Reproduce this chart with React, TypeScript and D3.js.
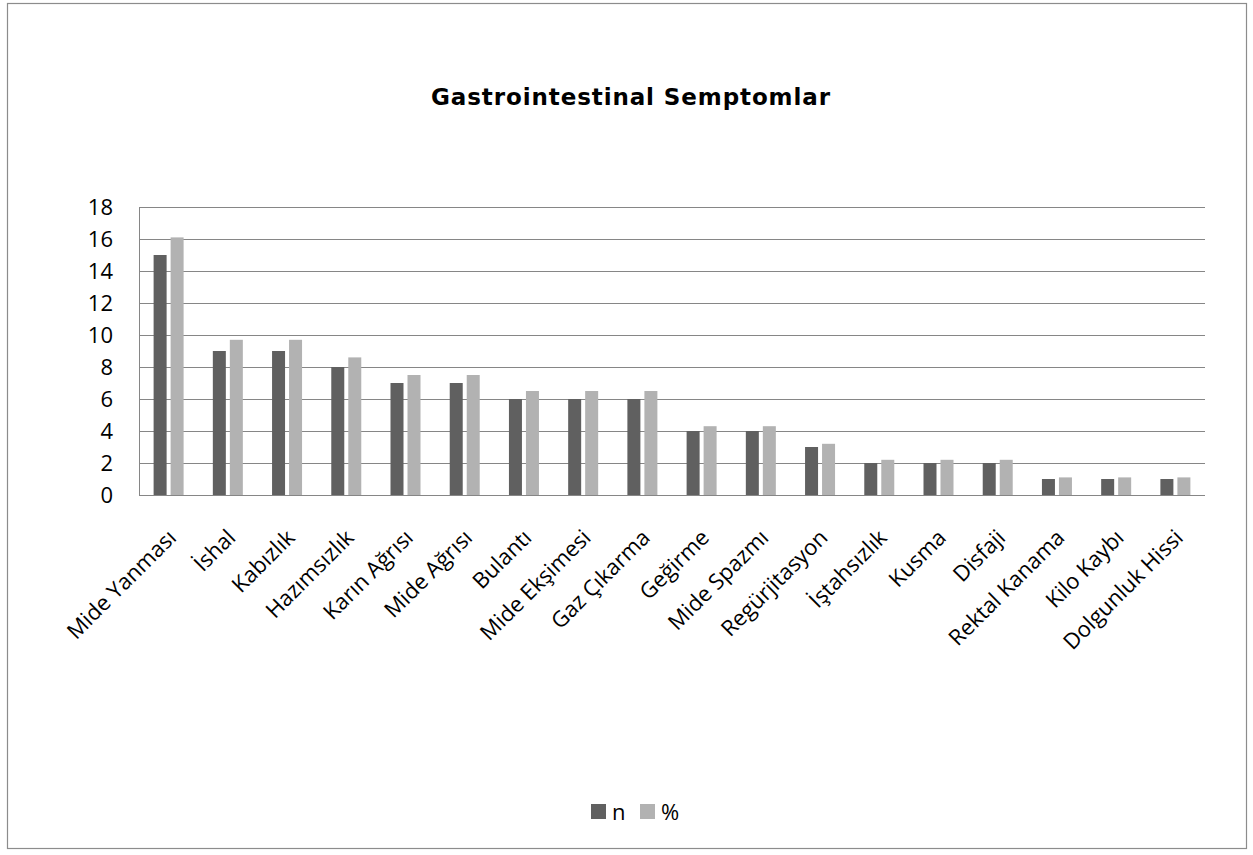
import React, { useEffect, useRef } from 'react';
import * as d3 from 'd3';

const categories = [
  'Mide Yanması', 'İshal', 'Kabızlık', 'Hazımsızlık', 'Karın Ağrısı', 'Mide Ağrısı',
  'Bulantı', 'Mide Ekşimesi', 'Gaz Çıkarma', 'Geğirme', 'Mide Spazmı', 'Regürjitasyon',
  'İştahsızlık', 'Kusma', 'Disfaji', 'Rektal Kanama', 'Kilo Kaybı', 'Dolgunluk Hissi',
];
const nValues = [15, 9, 9, 8, 7, 7, 6, 6, 6, 4, 4, 3, 2, 2, 2, 1, 1, 1];
const pctValues = [16.1, 9.7, 9.7, 8.6, 7.5, 7.5, 6.5, 6.5, 6.5, 4.3, 4.3, 3.2, 2.2, 2.2, 2.2, 1.1, 1.1, 1.1];
const yTicks = [0, 2, 4, 6, 8, 10, 12, 14, 16, 18];
const seriesNames = ['n', '%'];
const seriesColors = ['#606060', '#b2b2b2'];

const W = 1253;
const H = 855;
const FONT = '"Open Sans", sans-serif';

export default function App() {
  const svgRef = useRef<SVGSVGElement>(null);

  useEffect(() => {
    const svg = d3.select(svgRef.current);
    svg.selectAll('*').remove();

    const left = 139, right = 1205, top = 207, bottom = 495;

    svg.append('rect').attr('width', W).attr('height', H).attr('fill', '#fff');

    // outer frame
    svg.append('rect')
      .attr('x', 7.5).attr('y', 3.5)
      .attr('width', 1239).attr('height', 845)
      .attr('fill', 'none').attr('stroke', '#8c8c8c').attr('stroke-width', 1.2);

    svg.append('text')
      .attr('x', 631).attr('y', 105)
      .attr('text-anchor', 'middle')
      .attr('font-family', '"DejaVu Sans", Verdana, sans-serif')
      .attr('font-weight', 700).attr('font-size', 23)
      .attr('letter-spacing', 0.9)
      .text('Gastrointestinal Semptomlar');

    const x = d3.scaleBand().domain(categories).range([left, right]);
    const y = d3.scaleLinear().domain([0, 18]).range([bottom, top]);

    // gridlines
    svg.append('g').selectAll('line').data(yTicks).join('line')
      .attr('x1', left).attr('x2', right)
      .attr('y1', d => Math.round(y(d)) + 0.5).attr('y2', d => Math.round(y(d)) + 0.5)
      .attr('stroke', '#868686').attr('stroke-width', 1);

    svg.append('line')
      .attr('x1', left + 0.5).attr('x2', left + 0.5)
      .attr('y1', top).attr('y2', bottom)
      .attr('stroke', '#868686');

    svg.append('g').selectAll('text').data(yTicks).join('text')
      .attr('x', left - 26).attr('y', d => y(d))
      .attr('dy', '0.36em')
      .attr('text-anchor', 'end')
      .attr('font-family', FONT).attr('font-size', 22)
      .text(d => d);

    const barW = 13;
    const gap = 4;
    const series = [nValues, pctValues];
    series.forEach((vals, si) => {
      svg.append('g').selectAll('rect').data(vals).join('rect')
        .attr('x', (d, i) => {
          const cx = (x(categories[i]) as number) + x.bandwidth() / 2;
          return si === 0 ? cx - gap / 2 - barW : cx + gap / 2;
        })
        .attr('y', d => y(d))
        .attr('width', barW)
        .attr('height', d => bottom - y(d))
        .attr('fill', seriesColors[si]);
    });

    // bottom axis line over bars
    svg.append('line')
      .attr('x1', left).attr('x2', right)
      .attr('y1', bottom + 0.5).attr('y2', bottom + 0.5)
      .attr('stroke', '#868686');

    svg.append('g').selectAll('text').data(categories).join('text')
      .attr('transform', d => {
        const cx = (x(d) as number) + x.bandwidth() / 2;
        return `translate(${cx + 9},${bottom + 44}) rotate(-45)`;
      })
      .attr('text-anchor', 'end')
      .attr('font-family', FONT).attr('font-size', 22)
      .text(d => d);

    // legend
    const lg = svg.append('g');
    seriesNames.forEach((name, i) => {
      const lx = 591 + i * 49;
      lg.append('rect').attr('x', lx).attr('y', 804).attr('width', 15).attr('height', 15)
        .attr('fill', seriesColors[i]);
      lg.append('text').attr('x', lx + 21).attr('y', 820)
        .attr('font-family', FONT).attr('font-size', 22)
        .text(name);
    });
  }, []);

  return (
    <div style={{ position: 'absolute', left: 0, top: 0 }}>
      <svg ref={svgRef} width={W} height={H} style={{ display: 'block' }} />
    </div>
  );
}
